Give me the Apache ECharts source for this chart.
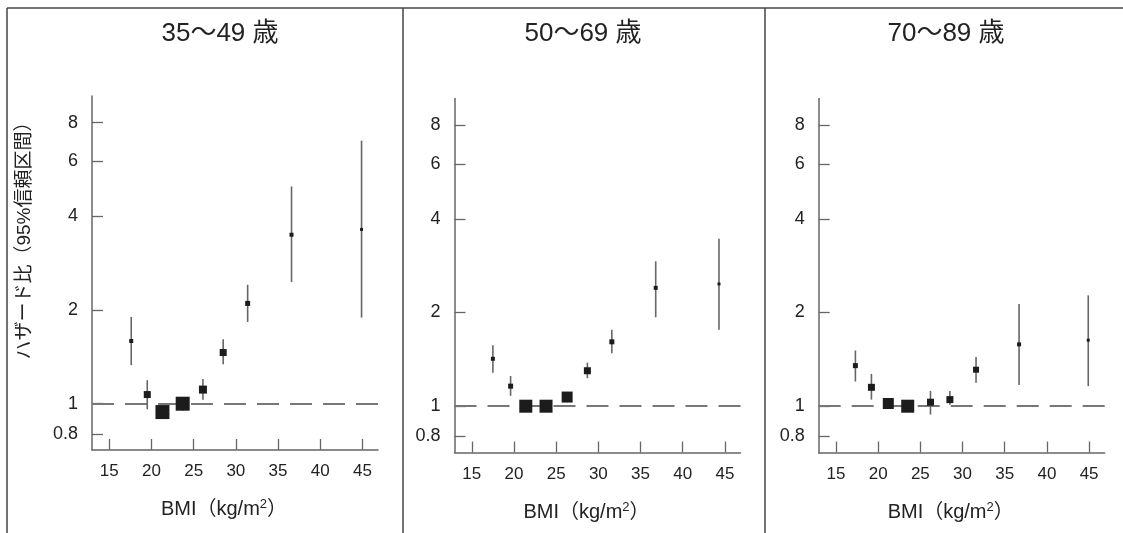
<!DOCTYPE html>
<html><head><meta charset="utf-8">
<script src="https://cdn.jsdelivr.net/npm/echarts@6/dist/echarts.min.js"></script>
<style>html,body{margin:0;padding:0;background:#fff}#c{width:1123px;height:533px}</style>
</head><body><div id="c"></div>
<script>
// ---- data ----
const panelTitles = ['35～49 歳', '50～69 歳', '70～89 歳'];
const yAxisName = 'ハザード比（95%信頼区間）';
const xAxisName = 'BMI（kg/m{sup|2}）';
const xTicks = [15, 20, 25, 30, 35, 40, 45];
const yTicks = [0.8, 1, 2, 4, 6, 8];

// 35～49 歳
const bmi1 = [17.6, 19.5, 21.3, 23.7, 26.1, 28.5, 31.4, 36.6, 44.9];
const hr1  = [1.59, 1.07, 0.94, 1.00, 1.11, 1.46, 2.10, 3.49, 3.63];
const lo1  = [1.33, 0.96, 0.90, 0.95, 1.03, 1.34, 1.83, 2.46, 1.89];
const hi1  = [1.90, 1.19, 0.98, 1.05, 1.20, 1.61, 2.41, 4.99, 7.00];
const w1   = [4, 7, 14, 14, 8, 7, 5, 4, 3];

// 50～69 歳
const bmi2 = [17.5, 19.6, 21.4, 23.8, 26.3, 28.7, 31.6, 36.8, 44.3];
const hr2  = [1.42, 1.16, 1.00, 1.00, 1.07, 1.30, 1.61, 2.40, 2.47];
const lo2  = [1.28, 1.08, 0.96, 0.96, 1.03, 1.23, 1.48, 1.93, 1.76];
const hi2  = [1.57, 1.25, 1.04, 1.04, 1.10, 1.38, 1.76, 2.92, 3.45];
const w2   = [4, 5, 13, 13, 11, 7, 5, 4, 3];

// 70～89 歳
const bmi3 = [17.3, 19.2, 21.2, 23.5, 26.2, 28.5, 31.6, 36.7, 44.9];
const hr3  = [1.35, 1.15, 1.02, 1.00, 1.03, 1.05, 1.31, 1.58, 1.63];
const lo3  = [1.20, 1.05, 0.98, 0.96, 0.94, 1.01, 1.19, 1.17, 1.16];
const hi3  = [1.51, 1.27, 1.06, 1.04, 1.12, 1.12, 1.44, 2.13, 2.27];
const w3   = [5, 7, 11, 13, 7, 7, 6, 4, 3];

// ---- build ----
const panels = [
  {bmi: bmi1, hr: hr1, lo: lo1, hi: hi1, w: w1},
  {bmi: bmi2, hr: hr2, lo: lo2, hi: hi2, w: w2},
  {bmi: bmi3, hr: hr3, lo: lo3, hi: hi3, w: w3}
];
const FONT = "'Liberation Sans', 'Noto Sans CJK JP', sans-serif";
const gridPos = [
  {left: 92, top: 96, width: 286, height: 354},
  {left: 454.5, top: 98.5, width: 286, height: 354},
  {left: 818.7, top: 98.5, width: 286, height: 354}
];
const titleX = [220, 583, 946];
const axisColor = '#666';

const grid = [], xAxis = [], yAxis = [], series = [];
panels.forEach((p, i) => {
  grid.push(Object.assign({containLabel: false}, gridPos[i]));
  xAxis.push({
    type: 'value', gridIndex: i, min: 12.95, max: 46.85,
    axisLine: {show: true, onZero: false, lineStyle: {color: axisColor, width: 1.5}},
    axisTick: {show: true, inside: true, length: 11, customValues: xTicks, lineStyle: {color: axisColor, width: 1.3}},
    axisLabel: {customValues: xTicks, fontSize: 17, color: '#222', margin: 13, fontFamily: FONT},
    splitLine: {show: false},
    name: xAxisName, nameLocation: 'middle', nameGap: 48,
    nameTextStyle: {
      fontSize: 20, color: '#222', fontFamily: FONT, padding: [0, 22, 0, 0], lineHeight: 23,
      rich: {sup: {fontSize: 13, fontFamily: FONT, color: '#222', verticalAlign: 'top', lineHeight: 13}}
    }
  });
  yAxis.push({
    type: 'log', logBase: 2, gridIndex: i, min: 0.71, max: 9.74,
    axisLine: {show: true, onZero: false, lineStyle: {color: axisColor, width: 1.5}},
    axisTick: {show: true, inside: true, length: 11, customValues: yTicks, lineStyle: {color: axisColor, width: 1.3}},
    axisLabel: {customValues: yTicks, fontSize: 18, color: '#222', margin: 14, fontFamily: FONT},
    splitLine: {show: false}
  });
  series.push({
    type: 'custom', xAxisIndex: i, yAxisIndex: i, z: 2,
    data: p.bmi.map((x, k) => [x, p.lo[k], p.hi[k]]),
    encode: {x: 0, y: [1, 2]},
    renderItem: (params, api) => {
      const a = api.coord([api.value(0), api.value(1)]);
      const b = api.coord([api.value(0), api.value(2)]);
      return {type: 'line', shape: {x1: a[0], y1: a[1], x2: b[0], y2: b[1]},
              style: {stroke: '#666', lineWidth: 1.6}};
    },
    silent: true
  });
  series.push({
    type: 'scatter', xAxisIndex: i, yAxisIndex: i, z: 3,
    symbol: 'rect',
    data: p.bmi.map((x, k) => ({value: [x, p.hr[k]], symbolSize: p.w[k]})),
    itemStyle: {color: '#1c1c1c', opacity: 1},
    silent: true,
    markLine: {
      silent: true, symbol: 'none', z: 1,
      label: {show: false},
      lineStyle: {type: [22, 11], color: '#777', width: 2},
      data: [{yAxis: 1}]
    }
  });
});

const graphic = [
  {type: 'line', shape: {x1: 7, y1: 8, x2: 1123, y2: 8}, style: {stroke: '#444', lineWidth: 1.5}},
  {type: 'line', shape: {x1: 7, y1: 8, x2: 7, y2: 533}, style: {stroke: '#444', lineWidth: 1.5}},
  {type: 'line', shape: {x1: 403, y1: 8, x2: 403, y2: 533}, style: {stroke: '#444', lineWidth: 1.5}},
  {type: 'line', shape: {x1: 765, y1: 8, x2: 765, y2: 533}, style: {stroke: '#444', lineWidth: 1.5}},
  {type: 'text', x: 25, y: 236, rotation: Math.PI / 2,
   style: {text: yAxisName, font: "19px " + FONT, fill: '#222', textAlign: 'center', textVerticalAlign: 'middle'}}
];
panelTitles.forEach((t, i) => {
  graphic.push({type: 'text', x: titleX[i], y: 34,
    style: {text: t, font: "26px " + FONT, fill: '#222', textAlign: 'center', textVerticalAlign: 'middle'}});
});

const chart = echarts.init(document.getElementById('c'), null, {renderer: 'canvas'});
chart.setOption({
  backgroundColor: '#fff',
  animation: false,
  grid, xAxis, yAxis, series, graphic
});
</script>
</body></html>
